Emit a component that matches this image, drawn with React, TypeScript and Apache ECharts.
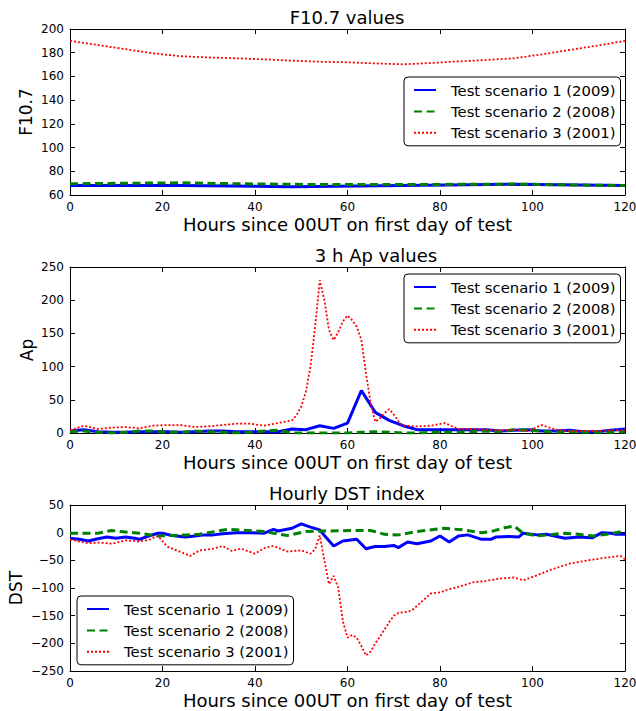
import React, { useEffect, useRef } from "react";
import * as echarts from "echarts";

const NAMES = ["Test scenario 1 (2009)", "Test scenario 2 (2008)", "Test scenario 3 (2001)"];
const TITLES = ["F10.7 values", "3 h Ap values", "Hourly DST index"];
const Y_NAMES = ["F10.7", "Ap", "DST"];
const X_NAME = "Hours since 00UT on first day of test";
const X_TICKS = { min: 0, max: 120, interval: 20 };
const Y_TICKS = [
  { min: 60, max: 200, interval: 20 },
  { min: 0, max: 250, interval: 50 },
  { min: -250, max: 50, interval: 50 },
];

// F10.7
const f107HoursS1 = [0, 24, 48, 72, 96, 120];
const f107S1 = [68, 68, 67, 68, 69, 68];
const f107HoursS2 = [0, 24, 36, 48, 60, 72, 84, 96, 108, 120];
const f107S2 = [69.5, 70.3, 69.5, 69, 68.8, 68.8, 69, 69.2, 68.5, 68];
const f107HoursS3 = [0, 6, 12, 18, 24, 30, 36, 42, 48, 54, 60, 66, 72, 78, 84, 90, 96, 102, 108, 114, 120];
const f107S3 = [190, 186.5, 183, 179.5, 177, 176, 175.3, 174.4, 173.3, 172.4, 171.9, 171, 170.2, 171.3, 172.7, 173.9, 175.3, 178.6, 182.3, 186, 190];

// Ap (3-hourly)
const apHours3h = [0, 3, 6, 9, 12, 15, 18, 21, 24, 27, 30, 33, 36, 39, 42, 45, 48, 51, 54, 57, 60, 63, 66, 69, 72, 75, 78, 81, 84, 87, 90, 93, 96, 99, 102, 105, 108, 111, 114, 117, 120];
const apS1 = [3, 5, 2, 1, 1, 2, 2, 2, 1, 2, 3, 3, 2, 2, 2, 2, 6, 5, 11, 7, 15, 64, 31, 19, 11, 5, 5, 5, 5, 5, 5, 3, 4, 5, 3, 3, 4, 2, 2, 4, 6];
const apS2 = [2, 3, 1, 0, 1, 3, 3, 1, 1, 3, 2, 1, 0, 1, 3, 4, 0, 0, 0, 0, 0, 1, 2, 1, 0, 0, 1, 1, 1, 2, 3, 2, 5, 4, 3, 1, 2, 1, 1, 1, 2];
const apHoursS3 = [0, 3, 6, 9, 12, 15, 18, 21, 24, 27, 30, 33, 36, 39, 42, 45, 48, 49, 50, 51, 52, 53, 54, 55, 56, 57, 58, 59, 60, 61, 62, 63, 64, 65, 66, 67, 68, 69, 70, 71, 72, 75, 78, 81, 84, 87, 90, 93, 96, 99, 102, 105, 108, 111, 114, 117, 120];
const apS3 = [4, 11, 6, 8, 9, 7, 11, 12, 12, 9, 10, 12, 14, 14, 11, 15, 19, 27, 40, 62, 100, 160, 230, 200, 155, 140, 152, 168, 177, 170, 160, 140, 90, 45, 17, 22, 30, 36, 28, 18, 11, 10, 11, 15, 6, 6, 5, 4, 5, 3, 12, 5, 3, 3, 3, 4, 4];

// DST (hourly)
const dstHoursS1 = [0, 2, 4, 6, 8, 10, 12, 14, 15, 17, 19, 20, 22, 25, 27, 29, 31, 33, 36, 39, 42, 44, 45, 48, 50, 52, 54, 55, 57, 59, 62, 64, 66, 68, 70, 71, 73, 75, 78, 80, 82, 84, 86, 89, 91, 92, 95, 97, 98, 101, 103, 107, 110, 113, 115, 117, 118, 120];
const dstS1 = [-10, -12, -15, -11, -8, -10, -8, -10, -12, -6, -1, -1, -5, -8, -6, -4, -4, -2, 0, 0, -1, 6, 3, 8, 16, 10, 5, -5, -24, -15, -12, -29, -25, -25, -23, -27, -17, -20, -15, -6, -17, -6, -4, -12, -12, -8, -7, -8, -1, -4, -3, -10, -8, -9, 0, -1, -3, -3];
const dstHoursS2 = [0, 6, 9, 11, 15, 19, 25, 28, 34, 38, 42, 44, 47, 51, 55, 63, 65, 68, 71, 75, 81, 85, 89, 91, 94, 96, 98, 101, 107, 110, 113, 116, 120];
const dstS2 = [-1, -1, 4, 2, -1, -6, -4, -3, 6, 4, 2, -1, -5, 2, 3, 4, 4, -3, -4, 2, 8, 5, 0, 2, 9, 12, -1, -6, -1, -3, -6, -3, 3];
const dstHoursS3 = [0, 2, 4, 6, 8, 9, 11, 12, 14, 15, 17, 19, 21, 24, 26, 28, 31, 33, 35, 37, 40, 42, 44, 47, 50, 52, 53, 54, 55, 56, 57, 58, 59, 60, 61, 62, 63, 64, 65, 66, 67, 68, 69, 70, 71, 73, 74, 76, 78, 80, 82, 84, 87, 90, 93, 96, 98, 101, 104, 108, 112, 116, 119, 120];
const dstS3 = [-12, -16, -19, -18, -19, -20, -16, -14, -15, -16, -13, -6, -25, -35, -42, -32, -29, -24, -33, -29, -38, -28, -24, -34, -32, -38, -30, -5, -50, -93, -78, -100, -160, -190, -185, -190, -205, -222, -215, -200, -188, -175, -162, -150, -145, -143, -140, -125, -110, -108, -102, -98, -90, -87, -83, -81, -86, -77, -67, -56, -50, -45, -42, -48];

const FONT = "DejaVu Sans";
const GRID_TOPS = [29, 267, 505];
const GRID_H = 166;
const TITLE_POS = [
  { x: 347, y: 17.5 },
  { x: 376, y: 255.5 },
  { x: 347, y: 493 },
];
const Y_NAME_X = [25.5, 26.5, 15.5];
const LEGENDS = [
  { left: 404, top: 77 },
  { left: 404, top: 274 },
  { left: 77, top: 596 },
];
const STYLES = [
  { color: "#0000ff", width: 3, type: "solid" as any },
  { color: "#008000", width: 3, type: [8, 4.5] as any },
  { color: "#ff0000", width: 1.8, type: [2, 2] as any },
];

const pairs = (xs: number[], ys: number[]) => xs.map((x, i) => [x, ys[i]]);
const minus = (v: number) => String(v).replace("-", "\u2212");

export default function App() {
  const ref = useRef<HTMLDivElement>(null);
  useEffect(() => {
    if (!ref.current) return;
    const chart = echarts.init(ref.current, undefined, { renderer: "svg" });
    const panels = [
      [pairs(f107HoursS1, f107S1), pairs(f107HoursS2, f107S2), pairs(f107HoursS3, f107S3)],
      [pairs(apHours3h, apS1), pairs(apHours3h, apS2), pairs(apHoursS3, apS3)],
      [pairs(dstHoursS1, dstS1), pairs(dstHoursS2, dstS2), pairs(dstHoursS3, dstS3)],
    ];
    const axisLine = { show: true, onZero: false, lineStyle: { color: "#000", width: 1 } };
    const axisTick = { show: true, inside: true, length: 5, lineStyle: { color: "#000", width: 1 } };
    const label = { fontFamily: FONT, fontSize: 12, color: "#000", margin: 6, formatter: minus };
    const grid: any[] = [];
    const xAxis: any[] = [];
    const yAxis: any[] = [];
    const graphic: any[] = [];
    const legend: any[] = [];
    const series: any[] = [];
    for (let i = 0; i < 3; i++) {
      grid.push({ left: 70, right: 11, top: GRID_TOPS[i], height: GRID_H, containLabel: false, outerBoundsMode: "none" });
      graphic.push({
        type: "text",
        x: TITLE_POS[i].x,
        y: TITLE_POS[i].y,
        silent: true,
        style: {
          text: TITLES[i],
          font: `18px "${FONT}"`,
          fill: "#000",
          align: "center",
          verticalAlign: "middle",
        },
      });
      graphic.push({
        type: "text",
        x: Y_NAME_X[i],
        y: GRID_TOPS[i] + GRID_H / 2,
        rotation: Math.PI / 2,
        silent: true,
        style: {
          text: Y_NAMES[i],
          font: `17px "${FONT}"`,
          fill: "#000",
          align: "center",
          verticalAlign: "middle",
        },
      });
      xAxis.push({
        gridIndex: i, type: "value", position: "bottom", ...X_TICKS,
        axisLine, axisTick, axisLabel: label, splitLine: { show: false },
        name: X_NAME, nameLocation: "middle", nameGap: 20,
        nameTextStyle: { fontFamily: FONT, fontSize: 18, color: "#000" },
      });
      xAxis.push({
        gridIndex: i, type: "value", position: "top", ...X_TICKS,
        axisLine, axisTick, axisLabel: { show: false }, splitLine: { show: false },
      });
      yAxis.push({
        gridIndex: i, type: "value", position: "left", ...Y_TICKS[i],
        axisLine, axisTick, axisLabel: label, splitLine: { show: false },
      });
      yAxis.push({
        gridIndex: i, type: "value", position: "right", ...Y_TICKS[i],
        axisLine, axisTick, axisLabel: { show: false }, splitLine: { show: false },
      });
      legend.push({
        orient: "vertical",
        left: LEGENDS[i].left,
        top: LEGENDS[i].top,
        padding: [5.5, 5, 5.5, 9],
        itemGap: 6.4,
        itemWidth: 22,
        itemHeight: 14,
        borderColor: "#000",
        borderWidth: 1,
        borderRadius: 4,
        backgroundColor: "#fff",
        selectedMode: false,
        itemStyle: { opacity: 0, color: "transparent", borderWidth: 0 },
        textStyle: { fontFamily: FONT, fontSize: 14.8, color: "#000", padding: [0, 0, 0, 10] },
        data: NAMES,
      });
      for (let s = 0; s < 3; s++) {
        series.push({
          type: "line",
          name: NAMES[s],
          xAxisIndex: i * 2,
          yAxisIndex: i * 2,
          data: panels[i][s],
          showSymbol: false,
          symbol: "none",
          lineStyle: { ...STYLES[s] },
          itemStyle: { color: STYLES[s].color },
          color: STYLES[s].color,
          z: 2 + s,
        });
      }
    }
    chart.setOption({
      animation: false,
      backgroundColor: "#fff",
      grid,
      xAxis,
      yAxis,
      legend,
      series,
      graphic,
    });
    return () => chart.dispose();
  }, []);
  return <div ref={ref} style={{ position: "fixed", left: 0, top: 0, width: 636, height: 711 }} />;
}
